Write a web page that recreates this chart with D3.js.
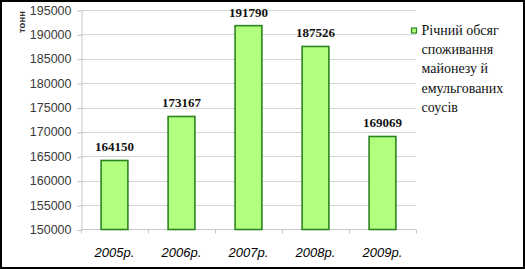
<!DOCTYPE html>
<html>
<head>
<meta charset="utf-8">
<script src="https://cdn.jsdelivr.net/npm/d3@7"></script>
<style>
  body { margin: 0; background: #fff; }
  svg { display: block; }
  .serif { font-family: "Liberation Serif", "Times New Roman", serif; }
  .sans { font-family: "Liberation Sans", Arial, sans-serif; }
</style>
</head>
<body>
<script>
// chart data
var years = ["2005р.", "2006р.", "2007р.", "2008р.", "2009р."];
var values = [164150, 173167, 191790, 187526, 169069];
var yTicks = [150000, 155000, 160000, 165000, 170000, 175000, 180000, 185000, 190000, 195000];
var legendLines = ["Річний обсяг", "споживання", "майонезу й", "емульгованих", "соусів"];
var unitLabel = "тонн";

var width = 525, height = 270;
var plot = { left: 81, right: 416, top: 10, bottom: 229.5 };

var svg = d3.select("body").append("svg")
  .attr("width", width)
  .attr("height", height);

// frame around the whole chart
svg.append("rect")
  .attr("x", 1).attr("y", 1)
  .attr("width", width - 2).attr("height", height - 3)
  .attr("fill", "#fff")
  .attr("stroke", "#000")
  .attr("stroke-width", 2);

var x = d3.scaleBand()
  .domain(years)
  .range([plot.left, plot.right])
  .padding(0);

var y = d3.scaleLinear()
  .domain([150000, 195000])
  .range([plot.bottom, plot.top]);

// gridlines
svg.append("g")
  .selectAll("line")
  .data(yTicks.slice(1))
  .enter().append("line")
  .attr("x1", plot.left).attr("x2", plot.right)
  .attr("y1", function(d) { return Math.round(y(d)) + 0.5; })
  .attr("y2", function(d) { return Math.round(y(d)) + 0.5; })
  .attr("stroke", "#d4d4d4")
  .attr("stroke-width", 1);

// left axis
var yAxis = svg.append("g")
  .attr("transform", "translate(" + (plot.left + 0.5) + ",0)")
  .call(d3.axisLeft(y).tickValues(yTicks).tickSizeInner(4).tickSizeOuter(0).tickPadding(6)
    .tickFormat(function(d) { return d; }));
yAxis.select(".domain").attr("stroke", "#c8c8c8");
yAxis.selectAll(".tick line")
  .attr("stroke", "#bdbdbd")
  .attr("transform", "translate(0,0.5)");
yAxis.selectAll(".tick text")
  .attr("class", "sans")
  .attr("font-size", "12.5px")
  .attr("fill", "#3a3a3a");

// bottom axis line with ticks at category edges
var xAxisG = svg.append("g");
xAxisG.append("line")
  .attr("x1", plot.left).attr("x2", plot.right)
  .attr("y1", plot.bottom).attr("y2", plot.bottom)
  .attr("stroke", "#c8c8c8");
var edges = years.map(function(d) { return x(d); }).concat([plot.right]);
xAxisG.selectAll("line.edge")
  .data(edges)
  .enter().append("line")
  .attr("class", "edge")
  .attr("x1", function(d) { return Math.round(d) + 0.5; })
  .attr("x2", function(d) { return Math.round(d) + 0.5; })
  .attr("y1", plot.bottom).attr("y2", plot.bottom + 4)
  .attr("stroke", "#c8c8c8");

xAxisG.selectAll("text")
  .data(years)
  .enter().append("text")
  .attr("class", "sans")
  .attr("x", function(d) { return x(d) + x.bandwidth() / 2; })
  .attr("y", 256.5)
  .attr("text-anchor", "middle")
  .attr("font-style", "italic")
  .attr("font-size", "13px")
  .attr("fill", "#000")
  .text(function(d) { return d; });

// bars
var barFrac = 0.4;
svg.append("g")
  .selectAll("rect")
  .data(values)
  .enter().append("rect")
  .attr("x", function(d, i) { return x(years[i]) + x.bandwidth() * (1 - barFrac) / 2; })
  .attr("width", x.bandwidth() * barFrac)
  .attr("y", function(d) { return y(d); })
  .attr("height", function(d) { return plot.bottom - y(d); })
  .attr("fill", "#b2ff80")
  .attr("stroke", "#2c8420")
  .attr("stroke-width", 1.6);

// value labels
svg.append("g")
  .selectAll("text")
  .data(values)
  .enter().append("text")
  .attr("class", "serif")
  .attr("x", function(d, i) { return x(years[i]) + x.bandwidth() / 2; })
  .attr("y", function(d) { return y(d) - 9; })
  .attr("text-anchor", "middle")
  .attr("font-weight", "bold")
  .attr("font-size", "13px")
  .attr("fill", "#111")
  .text(function(d) { return d; });

// unit label
svg.append("text")
  .attr("class", "sans")
  .attr("transform", "translate(24.5,22) rotate(-90)")
  .attr("text-anchor", "middle")
  .attr("font-weight", "bold")
  .attr("font-size", "9.5px")
  .attr("fill", "#333")
  .text(unitLabel);

// legend
var legend = svg.append("g");
legend.append("rect")
  .attr("x", 411.5).attr("y", 28)
  .attr("width", 5).attr("height", 5)
  .attr("fill", "#b2ff80")
  .attr("stroke", "#2c8420")
  .attr("stroke-width", 1.2);
legend.selectAll("text")
  .data(legendLines)
  .enter().append("text")
  .attr("class", "serif")
  .attr("x", 421.5)
  .attr("y", function(d, i) { return 35 + i * 19.2; })
  .attr("font-size", "14px")
  .attr("fill", "#111")
  .text(function(d) { return d; });
</script>
</body>
</html>
